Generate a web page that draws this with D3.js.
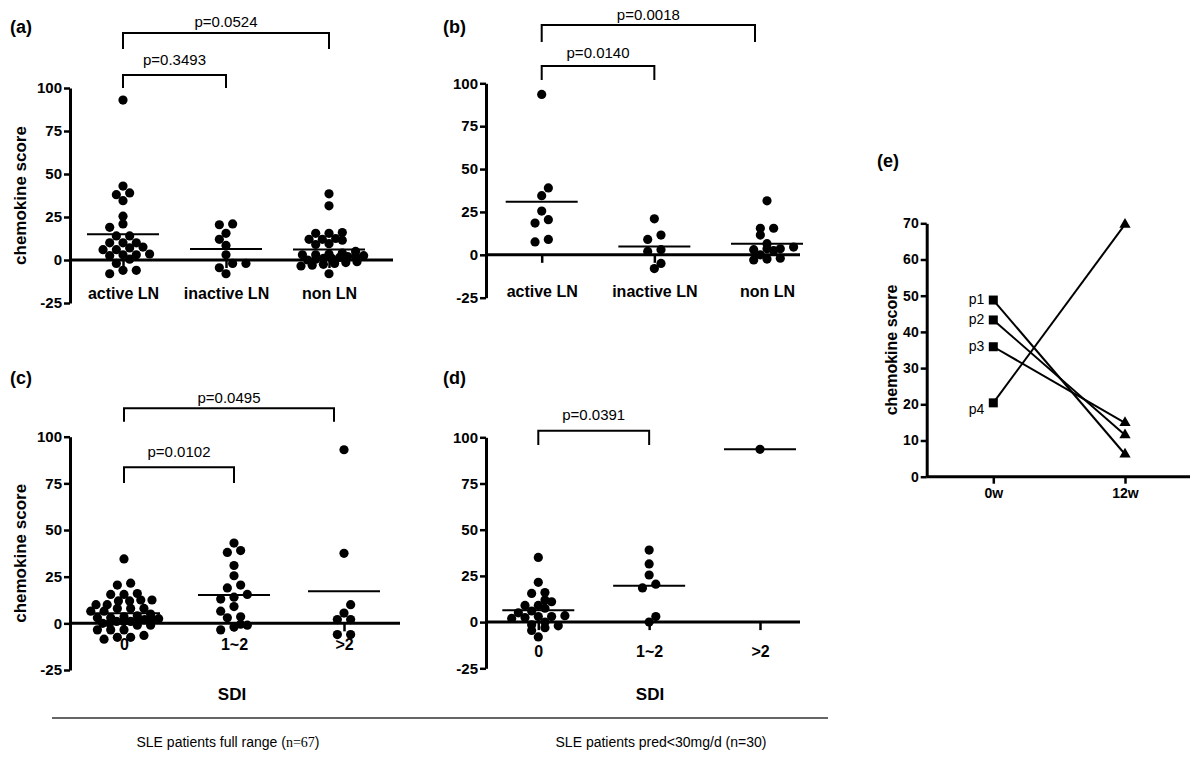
<!DOCTYPE html>
<html>
<head>
<meta charset="utf-8">
<script src="https://cdn.jsdelivr.net/npm/d3@7"></script>
<style>
  body { margin: 0; background: #fff; }
  svg { display: block; }
</style>
</head>
<body>
<div id="canvas"></div>
<script>
// categories
const catsLN = ['active LN', 'inactive LN', 'non LN'];
const catsSDI = ['0', '1~2', '>2'];
const yTicks = [-25, 0, 25, 50, 75, 100];

// (a) all SLE patients, by LN status
const aActive = [93, 43, 39, 38, 34.5, 25.5, 21, 19, 14, 14, 10, 10, 10, 7.5, 7, 6, 6, 3, 3, 2.5, 0.5, 3.5, -2, -6, -6, -8];
const aInactive = [21, 20.5, 15.5, 12, 8.5, 3, -2, -2, -4.5, -8];
const aNon = [38.5, 31.5, 16, 15.5, 15.5, 12.5, 12, 12, 11.5, 9.5, 9, 5, 4, 2, 1, 3.5, 3, 3, 2.5, 2, 1.5, 1, 0, 0.5, -1, -1.5, -2, -2.5, -3, -3.5, -8];

// (b) pred<30mg/d, by LN status
const bActive = [93.5, 39, 34.5, 25.5, 20.5, 18.5, 9, 7.5];
const bInactive = [21, 11.5, 9, 3, 2, -5, -8];
const bNon = [31.5, 15.5, 15.5, 11.5, 6.5, 4.5, 3.5, 3.5, 3, 2.5, 0, -2, -2.5, -3];

// (c) all SLE patients, by SDI
const c0 = [34.5, 21.5, 20.5, 16, 15.5, 15.5, 12.5, 12.5, 12, 12, 10, 10, 8, 8, 8, 6.5, 6.5, 5, 4, 3.5, 3, 3, 2.5, 2.5, 2, 1.5, 1, 1, 1, 0, 0, -1, -1, -3.5, -3.5, -3.5, -6.5, -7.5, -8.5, -7.5];
const c12 = [43, 39, 38, 31, 25.5, 20.5, 19, 15.5, 14, 13, 9, 6.5, 3.5, 3, -1, -2, -0.5, -3.5];
const cOver2 = [93, 37.5, 10, 5.5, 2, 2, -6, -6];

// (d) pred<30mg/d, by SDI
const d0 = [35, 21.5, 16, 15.5, 12, 11, 9, 9, 7.5, 6, 5, 3.5, 3, 3, 2.5, 2, 0, -1.5, -2, -3, -4.5, -8];
const d12 = [39, 31.5, 25.5, 20.5, 18.5, 3, 0];
const dOver2 = [93.5];

// p-value brackets: from, to, text
const aPairs = [['active LN', 'non LN', 'p=0.0524'], ['active LN', 'inactive LN', 'p=0.3493']];
const bPairs = [['active LN', 'non LN', 'p=0.0018'], ['active LN', 'inactive LN', 'p=0.0140']];
const cPairs = [['0', '>2', 'p=0.0495'], ['0', '1~2', 'p=0.0102']];
const dPairs = [['0', '1~2', 'p=0.0391']];

// (e) follow-up
const eWeeks = ['0w', '12w'];
const ePatients = ['p1', 'p2', 'p3', 'p4'];
const eWeek0 = [48.8, 43.3, 35.9, 20.4];
const eWeek12 = [6.2, 11.5, 14.9, 69.7];
const eTicks = [0, 10, 20, 30, 40, 50, 60, 70];

const FONT = "'Liberation Sans', Arial, sans-serif";
const NARROW = "'Liberation Sans Narrow', 'Arial Narrow', 'Liberation Sans', Arial, sans-serif";

const svg = d3.select('#canvas').append('svg')
    .attr('width', 1200)
    .attr('height', 757)
    .attr('font-family', FONT)

svg.append('rect').attr('width', 1200).attr('height', 757).attr('fill', '#fff')

// column scatter layout: dots that share a row are spread around the centre
function scatterRows(values, y) {
  const rowH = 5, spacing = 13.3, maxHalf = 28
  const pts = values.map(v => ({ v, py: y(v) })).sort((a, b) => b.py - a.py)
  const rows = []
  pts.forEach(p => {
    const last = rows[rows.length - 1]
    if (!last || last.start - p.py > rowH) rows.push({ start: p.py, pts: [p] })
    else last.pts.push(p)
  })
  const out = []
  let prev = null, dir = 1
  rows.forEach(r => {
    const n = r.pts.length
    const sp = n > 1 ? Math.min(spacing, 2 * maxHalf / (n - 1)) : 0
    let shift = 0
    if (prev && prev.n % 2 === n % 2 && prev.start - r.start < 9) {
      shift = prev.shift === 0 ? dir * spacing / 2 : 0
      if (shift) dir = -dir
    }
    r.pts.forEach((p, i) => out.push({ v: p.v, py: p.py, dx: (i - (n - 1) / 2) * sp + shift }))
    prev = { n, start: r.start, shift }
  })
  return out
}

function dotPanel(cfg) {
  const g = svg.append('g')
  const y = d3.scaleLinear().domain([-25, 100]).range([cfg.yBot, cfg.yTop])
  const x = d3.scalePoint().domain(cfg.cats).range([cfg.c0, cfg.c1])
  const y0 = y(0)

  // y axis
  const ax = g.append('g').attr('transform', `translate(${cfg.axisX},0)`)
    .call(d3.axisLeft(y).tickValues(yTicks).tickSize(6).tickSizeOuter(0).tickPadding(2).tickFormat(d => String(d)))
  ax.select('.domain').attr('stroke', '#000').attr('stroke-width', 3)
  ax.selectAll('.tick line').attr('stroke', '#000').attr('stroke-width', 2.5)
  ax.selectAll('.tick text').attr('fill', '#000').attr('font-size', 15).attr('font-weight', 'bold').attr('font-family', FONT)

  // x axis at zero with category ticks
  const bx = g.append('g').attr('transform', `translate(0,${y0})`)
    .call(d3.axisBottom(x).tickSize(8).tickPadding(cfg.labelPad))
  bx.select('.domain').remove()
  bx.selectAll('.tick line').attr('stroke', '#000').attr('stroke-width', 2.5)
  bx.selectAll('.tick text').attr('fill', '#000').attr('font-size', 16).attr('font-weight', 'bold').attr('font-family', FONT)

  g.append('line')
    .attr('x1', cfg.axisX).attr('x2', cfg.right)
    .attr('y1', y0).attr('y2', y0)
    .attr('stroke', '#000').attr('stroke-width', 3)

  // dots and mean lines
  cfg.groups.forEach((vals, i) => {
    const cx = x(cfg.cats[i])
    g.selectAll(null)
      .data(scatterRows(vals, y))
      .enter().append('circle')
      .attr('cx', d => cx + d.dx)
      .attr('cy', d => d.py)
      .attr('r', 4.6)
      .attr('fill', '#000')
    const m = d3.mean(vals)
    g.append('line')
      .attr('x1', cx - 36).attr('x2', cx + 36)
      .attr('y1', y(m)).attr('y2', y(m))
      .attr('stroke', '#000').attr('stroke-width', 2)
  })

  // brackets
  cfg.pairs.forEach((p, i) => {
    const lay = cfg.bracketLayout[i]
    const xa = x(p[0]), xb = x(p[1]) - (lay.endShift || 0)
    g.append('path')
      .attr('d', `M${xa},${lay.tick}V${lay.bar}H${xb}V${lay.tick}`)
      .attr('fill', 'none').attr('stroke', '#000').attr('stroke-width', 2)
    g.append('text')
      .attr('x', (xa + xb) / 2).attr('y', lay.text)
      .attr('text-anchor', 'middle')
      .attr('font-size', 15)
      .text(p[2])
  })

  // panel letter
  g.append('text')
    .attr('x', cfg.letterX).attr('y', cfg.letterY)
    .attr('font-size', 18).attr('font-weight', 'bold')
    .text(cfg.letter)

  if (cfg.yTitle) {
    g.append('text')
      .attr('transform', `translate(${cfg.axisX - 44},${(cfg.yTop + cfg.yBot) / 2}) rotate(-90)`)
      .attr('text-anchor', 'middle')
      .attr('font-size', 17).attr('font-weight', 'bold')
      .text('chemokine score')
  }
}

dotPanel({
  letter: '(a)', letterX: 10, letterY: 33,
  cats: catsLN, groups: [aActive, aInactive, aNon], pairs: aPairs,
  axisX: 70, right: 393, c0: 123, c1: 329, yTop: 88, yBot: 303, labelPad: 20,
  bracketLayout: [{ bar: 33, tick: 49, text: 27 }, { bar: 75, tick: 88, text: 65 }],
  yTitle: true
})

dotPanel({
  letter: '(b)', letterX: 443, letterY: 33,
  cats: catsLN, groups: [bActive, bInactive, bNon], pairs: bPairs,
  axisX: 486, right: 800, c0: 541.7, c1: 767, yTop: 83.3, yBot: 297.7, labelPad: 23,
  bracketLayout: [{ bar: 25, tick: 42, text: 20, endShift: 12 }, { bar: 66, tick: 80, text: 58 }],
  yTitle: false
})

dotPanel({
  letter: '(c)', letterX: 10, letterY: 384,
  cats: catsSDI, groups: [c0, c12, cOver2], pairs: cPairs,
  axisX: 70, right: 400, c0: 124, c1: 344, yTop: 436.7, yBot: 670, labelPad: 7,
  bracketLayout: [{ bar: 408.3, tick: 421.7, text: 403, endShift: 10 }, { bar: 467.3, tick: 483, text: 457 }],
  yTitle: true
})

dotPanel({
  letter: '(d)', letterX: 443, letterY: 384,
  cats: catsSDI, groups: [d0, d12, dOver2], pairs: dPairs,
  axisX: 486, right: 800, c0: 538.3, c1: 760, yTop: 437.3, yBot: 668.3, labelPad: 16,
  bracketLayout: [{ bar: 430.7, tick: 445, text: 420 }],
  yTitle: false
})

// SDI titles, divider and captions
const bottom = svg.append('g')
bottom.selectAll('.sdi')
  .data([232, 650])
  .enter().append('text')
  .attr('x', d => d).attr('y', 700)
  .attr('text-anchor', 'middle')
  .attr('font-size', 17).attr('font-weight', 'bold')
  .attr('font-family', NARROW)
  .text('SDI')

bottom.append('line')
  .attr('x1', 52).attr('x2', 828).attr('y1', 718).attr('y2', 718)
  .attr('stroke', '#333').attr('stroke-width', 1.5)

const cap1 = bottom.append('text')
  .attr('x', 228).attr('y', 747).attr('text-anchor', 'middle')
  .attr('font-size', 14).attr('font-family', NARROW)
cap1.append('tspan').text('SLE patients full range (')
cap1.append('tspan').attr('font-family', "'Liberation Serif', 'Times New Roman', serif").text('n=67')
cap1.append('tspan').text(')')

bottom.append('text')
  .attr('x', 661).attr('y', 747).attr('text-anchor', 'middle')
  .attr('font-size', 14).attr('font-family', NARROW)
  .text('SLE patients pred<30mg/d (n=30)')

// (e) paired follow-up
const ge = svg.append('g')
const ex = d3.scalePoint().domain(eWeeks).range([993.3, 1125])
const ey = d3.scaleLinear().domain([0, 70]).range([476.7, 223.3])

const eax = ge.append('g').attr('transform', 'translate(926.7,0)')
  .call(d3.axisLeft(ey).tickValues(eTicks).tickSize(6).tickSizeOuter(0).tickPadding(2))
eax.select('.domain').attr('stroke', '#000').attr('stroke-width', 3)
eax.selectAll('.tick line').attr('stroke', '#000').attr('stroke-width', 2.5)
eax.selectAll('.tick text').attr('fill', '#000').attr('font-size', 14).attr('font-weight', 'bold').attr('font-family', NARROW)

const ebx = ge.append('g').attr('transform', `translate(0,${ey(0)})`)
  .call(d3.axisBottom(ex).tickSize(7).tickPadding(4))
ebx.select('.domain').remove()
ebx.selectAll('.tick line').attr('stroke', '#000').attr('stroke-width', 2.5)
ebx.selectAll('.tick text').attr('fill', '#000').attr('font-size', 14).attr('font-weight', 'bold').attr('font-family', NARROW)

ge.append('line')
  .attr('x1', 926.7).attr('x2', 1190).attr('y1', ey(0)).attr('y2', ey(0))
  .attr('stroke', '#000').attr('stroke-width', 3)

ge.selectAll('.pair')
  .data(ePatients)
  .enter().append('line')
  .attr('x1', ex('0w')).attr('y1', (d, i) => ey(eWeek0[i]))
  .attr('x2', ex('12w')).attr('y2', (d, i) => ey(eWeek12[i]))
  .attr('stroke', '#000').attr('stroke-width', 2)

ge.selectAll('.sq')
  .data(eWeek0)
  .enter().append('rect')
  .attr('x', ex('0w') - 4.5).attr('y', d => ey(d) - 4.5)
  .attr('width', 9).attr('height', 9)
  .attr('fill', '#000')

ge.selectAll('.tri')
  .data(eWeek12)
  .enter().append('path')
  .attr('d', d3.symbol(d3.symbolTriangle).size(55))
  .attr('transform', d => `translate(${ex('12w')},${ey(d)})`)
  .attr('fill', '#000')

ge.selectAll('.plab')
  .data(ePatients)
  .enter().append('text')
  .attr('x', ex('0w') - 9)
  .attr('y', (d, i) => ey(eWeek0[i]) + (i === 3 ? 11 : 4))
  .attr('text-anchor', 'end')
  .attr('font-size', 14).attr('font-family', NARROW)
  .text(d => d)

ge.append('text')
  .attr('transform', `translate(${926.7 - 30},${(476.7 + 223.3) / 2}) rotate(-90)`)
  .attr('text-anchor', 'middle')
  .attr('font-size', 16).attr('font-weight', 'bold')
  .text('chemokine score')

ge.append('text')
  .attr('x', 877).attr('y', 167)
  .attr('font-size', 18).attr('font-weight', 'bold')
  .text('(e)')
</script>
</body>
</html>
